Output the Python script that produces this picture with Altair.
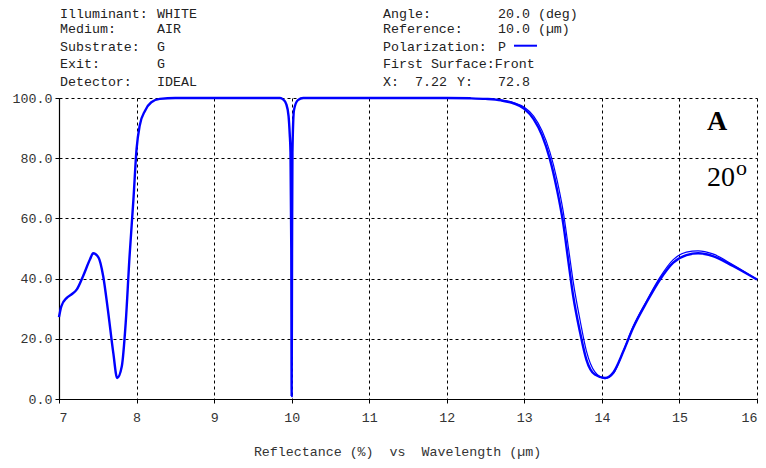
import altair as alt
import pandas as pd

# Main curve (P polarization)
wl_main = [7.0, 7.03, 7.10, 7.16, 7.23, 7.31, 7.40, 7.44, 7.51, 7.57, 7.63, 7.70, 7.75, 7.81,
           7.86, 7.91, 7.96, 8.00, 8.04, 8.11, 8.19, 8.30, 8.5, 9.0, 9.5, 9.85, 9.89, 9.93,
           9.96, 9.975, 9.985, 9.995, 10.0, 10.005, 10.01, 10.03, 10.08, 10.15, 11.0, 12.0,
           12.3, 12.5, 12.7, 12.86, 13.0, 13.12, 13.23, 13.33, 13.42, 13.50, 13.57, 13.63,
           13.72, 13.80, 13.91, 14.04, 14.15, 14.28, 14.40, 14.58, 14.75, 14.92, 15.09, 15.24,
           15.43, 15.69, 16.0]
refl_main = [27.2, 30.8, 33.6, 34.7, 36.4, 40.8, 46.4, 48.4, 47.0, 40.8, 29.7, 15.3, 7.0, 10.9,
             25.3, 47.5, 66.4, 83.0, 90.8, 95.8, 98.6, 99.7, 100.0, 100.0, 100.0, 100.0, 99.5, 98.0,
             94.0, 88.0, 82.0, 50.0, 1.0, 50.0, 82.0, 96.0, 99.3, 100.0, 100.0, 100.0,
             99.9, 99.7, 99.2, 98.2, 96.4, 93.0, 87.5, 79.7, 69.7, 58.6, 45.3, 34.2,
             22.0, 13.1, 8.1, 7.0, 8.9, 16.0, 23.5, 32.3, 39.7, 45.3, 47.8, 48.4,
             47.5, 44.2, 39.7]

# Second (slightly offset) trace seen on the long-wavelength side
wl_second = [12.5, 12.7, 12.86, 13.0, 13.12, 13.23, 13.33, 13.42, 13.50, 13.57, 13.63, 13.72,
             13.80, 13.91, 14.04, 14.15, 14.28, 14.40, 14.58, 14.75, 14.92, 15.09, 15.24, 15.43,
             15.69, 16.0]
refl_second = [99.7, 99.3, 98.5, 96.9, 94.0, 89.0, 82.0, 73.0, 62.5, 50.0, 39.0, 26.0,
               16.0, 9.0, 6.8, 8.5, 16.2, 23.9, 32.8, 40.5, 46.3, 48.8, 49.2, 48.2,
               44.6, 39.7]

x_ticks = [7, 8, 9, 10, 11, 12, 13, 14, 15, 16]
y_ticks = [0, 20, 40, 60, 80, 100]

hdr_labels_left = ["Illuminant:", "Medium:", "Substrate:", "Exit:", "Detector:"]
hdr_values_left = ["WHITE", "AIR", "G", "G", "IDEAL"]
hdr_labels_right = ["Angle:", "Reference:", "Polarization:", "First Surface:Front", "X:"]
hdr_values_right = ["20.0 (deg)", "10.0 (\u00b5m)", "P", "", "72.8"]
row_y = [-80.5, -64.7, -47.3, -29.7, -12.0]

df_main = pd.DataFrame({"wl": wl_main, "r": refl_main})
df_second = pd.DataFrame({"wl": wl_second, "r": refl_second})

MONO = "Liberation Mono"
FS = 13.3
TXT = "#222222"

xs = alt.Scale(domain=[7, 16], nice=False, zero=False)
ys = alt.Scale(domain=[0, 100], nice=False)

x_axis = alt.Axis(values=x_ticks, format="d", grid=True, gridColor="black", gridDash=[3, 3],
                  gridWidth=1, gridOpacity=1, domainColor="black", domainWidth=1.2,
                  tickColor="black", tickSize=4, labelFont=MONO, labelFontSize=FS,
                  labelColor="#333333", labelPadding=7,
                  title="Reflectance (%)\u00a0\u00a0vs\u00a0\u00a0Wavelength (\u00b5m)",
                  titleFont=MONO, titleFontSize=FS, titleFontWeight="normal",
                  titleColor="#333333", titlePadding=21, titleX=338, titleAlign="center")
y_axis = alt.Axis(values=y_ticks, format=".1f", grid=True, gridColor="black", gridDash=[3, 3],
                  gridWidth=1, gridOpacity=1, domainColor="black", domainWidth=1.2,
                  tickColor="black", tickSize=4, labelFont=MONO, labelFontSize=FS,
                  labelColor="#333333", labelPadding=3, title=None)

base_main = alt.Chart(df_main).mark_line(color="#0000FF", strokeWidth=2.4,
                                         interpolate="monotone").encode(
    x=alt.X("wl:Q", scale=xs, axis=x_axis),
    y=alt.Y("r:Q", scale=ys, axis=y_axis),
)
second = alt.Chart(df_second).mark_line(color="#0000FF", strokeWidth=1.2,
                                        interpolate="monotone").encode(
    x=alt.X("wl:Q", scale=xs),
    y=alt.Y("r:Q", scale=ys),
)

df_hl = pd.DataFrame({"t": hdr_labels_left, "y": row_y})
df_hv = pd.DataFrame({"t": hdr_values_left, "y": row_y})
df_rl = pd.DataFrame({"t": hdr_labels_right, "y": row_y})
df_rv = pd.DataFrame({"t": hdr_values_right, "y": row_y})

def hdr(df, xpx):
    return alt.Chart(df).mark_text(font=MONO, fontSize=FS, color=TXT, align="left",
                                   baseline="alphabetic").encode(
        x=alt.value(xpx), y=alt.Y("y:Q", scale=None), text="t:N")

hl = hdr(df_hl, 1)
hv = hdr(df_hv, 98)
rl = hdr(df_rl, 324)
rv = hdr(df_rv, 439)
xval = alt.Chart(pd.DataFrame({"t": ["7.22"]})).mark_text(
    font=MONO, fontSize=FS, color=TXT, align="left", baseline="alphabetic").encode(
    x=alt.value(356), y=alt.value(row_y[4]), text="t:N")
yl = alt.Chart(pd.DataFrame({"t": ["Y:"]})).mark_text(
    font=MONO, fontSize=FS, color=TXT, align="left", baseline="alphabetic").encode(
    x=alt.value(398), y=alt.value(row_y[4]), text="t:N")

legend_line = alt.Chart(pd.DataFrame({"a": [0]})).mark_rule(
    color="#0000FF", strokeWidth=2).encode(
    x=alt.value(455), x2=alt.value(478), y=alt.value(-52.3))

a_txt = alt.Chart(pd.DataFrame({"t": ["A"]})).mark_text(
    font="Liberation Serif", fontSize=28, fontWeight="bold", color="black",
    align="center", baseline="alphabetic").encode(
    x=alt.value(658), y=alt.value(32), text="t:N")
ang_txt = alt.Chart(pd.DataFrame({"t": ["20"]})).mark_text(
    font="Liberation Serif", fontSize=28, color="black",
    align="right", baseline="alphabetic").encode(
    x=alt.value(676), y=alt.value(87.7), text="t:N")
deg_txt = alt.Chart(pd.DataFrame({"t": ["o"]})).mark_text(
    font="Liberation Serif", fontSize=22, color="black",
    align="left", baseline="alphabetic").encode(
    x=alt.value(677), y=alt.value(77), text="t:N")

chart = alt.layer(base_main, second, hl, hv, rl, rv, xval, yl, legend_line,
                  a_txt, ang_txt, deg_txt).properties(
    width=698, height=301,
    autosize=alt.AutoSizeParams(type="none"),
    padding={"left": 51, "top": 90, "right": 1, "bottom": 61},
    background="white",
).configure_view(stroke=None)

chart.save("out.html", embed_options={"renderer": "svg", "actions": False})
